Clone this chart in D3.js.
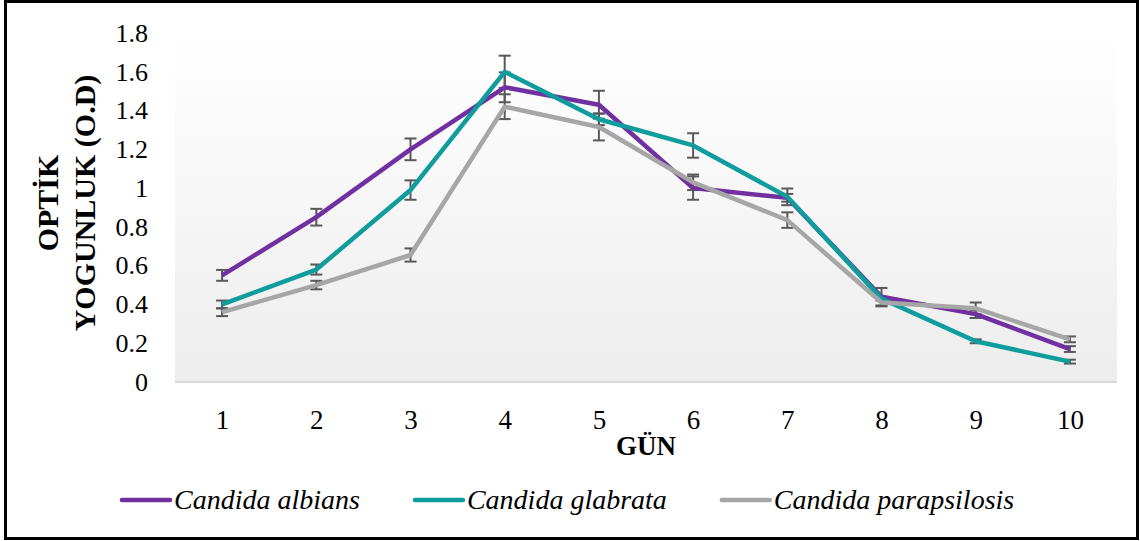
<!DOCTYPE html>
<html>
<head>
<meta charset="utf-8">
<script src="https://cdn.jsdelivr.net/npm/d3@7"></script>
<style>
  body { margin: 0; background: #fff; }
  svg { display: block; font-family: "Liberation Serif", "Times New Roman", serif; }
</style>
</head>
<body>
<div id="chart"></div>
<script>
// Chart size
const width = 1140;
const height = 541;

// Plot area
const plotLeft = 175;
const plotRight = 1117;
const plotTop = 33;
const plotBottom = 382;

// Data
const days = [1, 2, 3, 4, 5, 6, 7, 8, 9, 10];
const yTicks = [0, 0.2, 0.4, 0.6, 0.8, 1, 1.2, 1.4, 1.6, 1.8];
const yTickLabels = ["0", "0.2", "0.4", "0.6", "0.8", "1", "1.2", "1.4", "1.6", "1.8"];

const seriesNames = ["Candida albians", "Candida glabrata", "Candida parapsilosis"];
const seriesColors = ["#7030a0", "#0e9c9c", "#a6a6a6"];

const albicans = [0.55, 0.85, 1.20, 1.52, 1.43, 1.00, 0.95, 0.44, 0.35, 0.17];
const glabrata = [0.40, 0.58, 0.99, 1.60, 1.355, 1.22, 0.955, 0.43, 0.21, 0.105];
const parapsilosis = [0.36, 0.50, 0.655, 1.42, 1.315, 1.03, 0.835, 0.41, 0.38, 0.22];

const albicansErr = [0.028, 0.043, 0.056, 0.077, 0.072, 0.06, 0.02, 0.045, 0.02, 0.015];
const glabrataErr = [0.02, 0.026, 0.05, 0.083, 0.03, 0.063, 0.043, 0.01, 0.01, 0.01];
const parapsilosisErr = [0.02, 0.022, 0.034, 0.064, 0.069, 0.04, 0.04, 0.02, 0.03, 0.015];

const seriesValues = [albicans, glabrata, parapsilosis];
const seriesErrors = [albicansErr, glabrataErr, parapsilosisErr];

const svg = d3.select("#chart")
    .append("svg")
    .attr("width", width)
    .attr("height", height);

// outer frame
svg.append("rect")
    .attr("x", 5.5)
    .attr("y", 1.5)
    .attr("width", 1132)
    .attr("height", 537)
    .attr("fill", "#fff")
    .attr("stroke", "#000")
    .attr("stroke-width", 3);

// gradient for the plot area
const grad = svg.append("defs").append("linearGradient")
    .attr("id", "plotGrad")
    .attr("x1", 0).attr("y1", 0)
    .attr("x2", 0).attr("y2", 1);
grad.append("stop").attr("offset", "0%").attr("stop-color", "#ffffff");
grad.append("stop").attr("offset", "100%").attr("stop-color", "#ededed");

svg.append("rect")
    .attr("x", plotLeft)
    .attr("y", plotTop)
    .attr("width", plotRight - plotLeft)
    .attr("height", plotBottom - plotTop)
    .attr("fill", "url(#plotGrad)");

const x = d3.scalePoint()
    .domain(days)
    .range([plotLeft, plotRight])
    .padding(0.5);

const y = d3.scaleLinear()
    .domain([0, 1.8])
    .range([plotBottom, plotTop]);

// baseline
svg.append("line")
    .attr("x1", plotLeft)
    .attr("x2", plotRight)
    .attr("y1", y(0))
    .attr("y2", y(0))
    .attr("stroke", "#d9d9d9")
    .attr("stroke-width", 2);

// y axis labels
const yAxis = svg.append("g")
    .attr("transform", `translate(${plotLeft},0)`)
    .call(d3.axisLeft(y)
        .tickValues(yTicks)
        .tickSize(0)
        .tickPadding(27)
        .tickFormat((d, i) => yTickLabels[i]));
yAxis.select(".domain").remove();
yAxis.selectAll("text")
    .attr("font-family", "'Liberation Serif', 'Times New Roman', serif")
    .attr("font-size", 26)
    .attr("fill", "#000");

// x axis labels
const xAxis = svg.append("g")
    .attr("transform", `translate(0,${plotBottom})`)
    .call(d3.axisBottom(x)
        .tickSize(0)
        .tickPadding(28));
xAxis.select(".domain").remove();
xAxis.selectAll("text")
    .attr("font-family", "'Liberation Serif', 'Times New Roman', serif")
    .attr("font-size", 27)
    .attr("fill", "#000");

// axis titles
svg.append("text")
    .attr("x", (plotLeft + plotRight) / 2)
    .attr("y", 455)
    .attr("text-anchor", "middle")
    .attr("font-size", 27)
    .attr("font-weight", "bold")
    .text("GÜN");

const yTitle = svg.append("text")
    .attr("transform", "translate(0,203) rotate(-90)")
    .attr("text-anchor", "middle")
    .attr("font-size", 30)
    .attr("font-weight", "bold");
yTitle.append("tspan").attr("x", 0).attr("y", 58).text("OPTİK");
yTitle.append("tspan").attr("x", 0).attr("y", 95).text("YOGUNLUK (O.D)");

// error bars
seriesValues.forEach(function(vals, s) {
    const g = svg.append("g")
        .attr("stroke", "#595959")
        .attr("stroke-width", 2)
        .attr("fill", "none");
    const rows = days.map(function(d, i) {
        return { day: d, v: vals[i], e: seriesErrors[s][i] };
    });
    g.selectAll("line.bar")
        .data(rows)
        .enter()
        .append("line")
        .attr("class", "bar")
        .attr("x1", d => x(d.day))
        .attr("x2", d => x(d.day))
        .attr("y1", d => y(d.v + d.e))
        .attr("y2", d => y(d.v - d.e));
    g.selectAll("line.capTop")
        .data(rows)
        .enter()
        .append("line")
        .attr("class", "capTop")
        .attr("x1", d => x(d.day) - 6)
        .attr("x2", d => x(d.day) + 6)
        .attr("y1", d => y(d.v + d.e))
        .attr("y2", d => y(d.v + d.e));
    g.selectAll("line.capBot")
        .data(rows)
        .enter()
        .append("line")
        .attr("class", "capBot")
        .attr("x1", d => x(d.day) - 6)
        .attr("x2", d => x(d.day) + 6)
        .attr("y1", d => y(d.v - d.e))
        .attr("y2", d => y(d.v - d.e));
});

// lines
const line = d3.line()
    .x((d, i) => x(days[i]))
    .y(d => y(d));

seriesValues.forEach(function(vals, s) {
    svg.append("path")
        .datum(vals)
        .attr("d", line)
        .attr("fill", "none")
        .attr("stroke", seriesColors[s])
        .attr("stroke-width", 4.5)
        .attr("stroke-linejoin", "round");
});

// legend
let lx = 122;
const legendY = 500;
seriesNames.forEach(function(name, s) {
    svg.append("line")
        .attr("x1", lx)
        .attr("x2", lx + 48)
        .attr("y1", legendY)
        .attr("y2", legendY)
        .attr("stroke", seriesColors[s])
        .attr("stroke-width", 4.5)
        .attr("stroke-linecap", "round");
    const t = svg.append("text")
        .attr("x", lx + 52)
        .attr("y", legendY + 9)
        .attr("font-size", 28)
        .attr("font-style", "italic")
        .text(name);
    lx = lx + 52 + t.node().getComputedTextLength() + 55;
});
</script>
</body>
</html>
